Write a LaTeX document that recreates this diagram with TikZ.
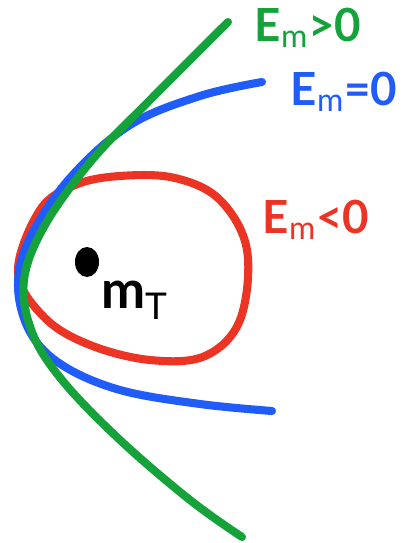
\documentclass[tikz,border=0pt]{standalone}
\usepackage{fontspec}
\setmainfont{Lato}
\usetikzlibrary{calc}
\definecolor{orbgreen}{RGB}{22,162,58}
\definecolor{orbblue}{RGB}{32,92,250}
\definecolor{orbred}{RGB}{236,52,36}
\tikzset{
  orbit/.style={line width=4.6pt, line cap=round, line join=round},
  energy/.style={font=\fontsize{26}{28}\selectfont\bfseries, inner sep=0pt},
}
\begin{document}
\begin{tikzpicture}[x=0.02cm, y=-0.02cm]
    \useasboundingbox (0,0) rectangle (416,543);
    % ellipse (bound orbit)
    \path[draw, orbit, orbred] plot[smooth cycle, tension=0.6] coordinates {
        (18,272) (40,210) (75,185) (120,176) (175,178) (220,200) (247,250)
        (240,320) (205,356) (150,360) (90,345) (45,318)};
    % parabola
    \path[draw, orbit, orbblue] plot[smooth, tension=0.6] coordinates {
        (262,82) (200,96) (130,125) (70,178) (30,238) (18,285) (30,332)
        (62,365) (120,390) (200,404) (272,411)};
    % hyperbola
    \path[draw, orbit, orbgreen] plot[smooth, tension=0.6] coordinates {
        (228,22) (150,100) (92,160) (45,225) (24,280) (32,332) (62,380)
        (120,440) (190,500) (242,537)};
    % planet
    \path[fill=black] (87,262) ellipse [x radius=12, y radius=15];
    \node[font=\fontsize{30}{32}\selectfont\bfseries, inner sep=0pt] (mT) at (135,300) {m$_{\mathrm{T}}$};
    % labels
    \node[energy, text=orbgreen] (hyp) at (308,28) {E$_{\mathrm{m}}$>0};
    \node[energy, text=orbblue] (par) at (344,92) {E$_{\mathrm{m}}$=0};
    \node[energy, text=orbred] (ell) at (316,220) {E$_{\mathrm{m}}$<0};
\end{tikzpicture}
\end{document}
